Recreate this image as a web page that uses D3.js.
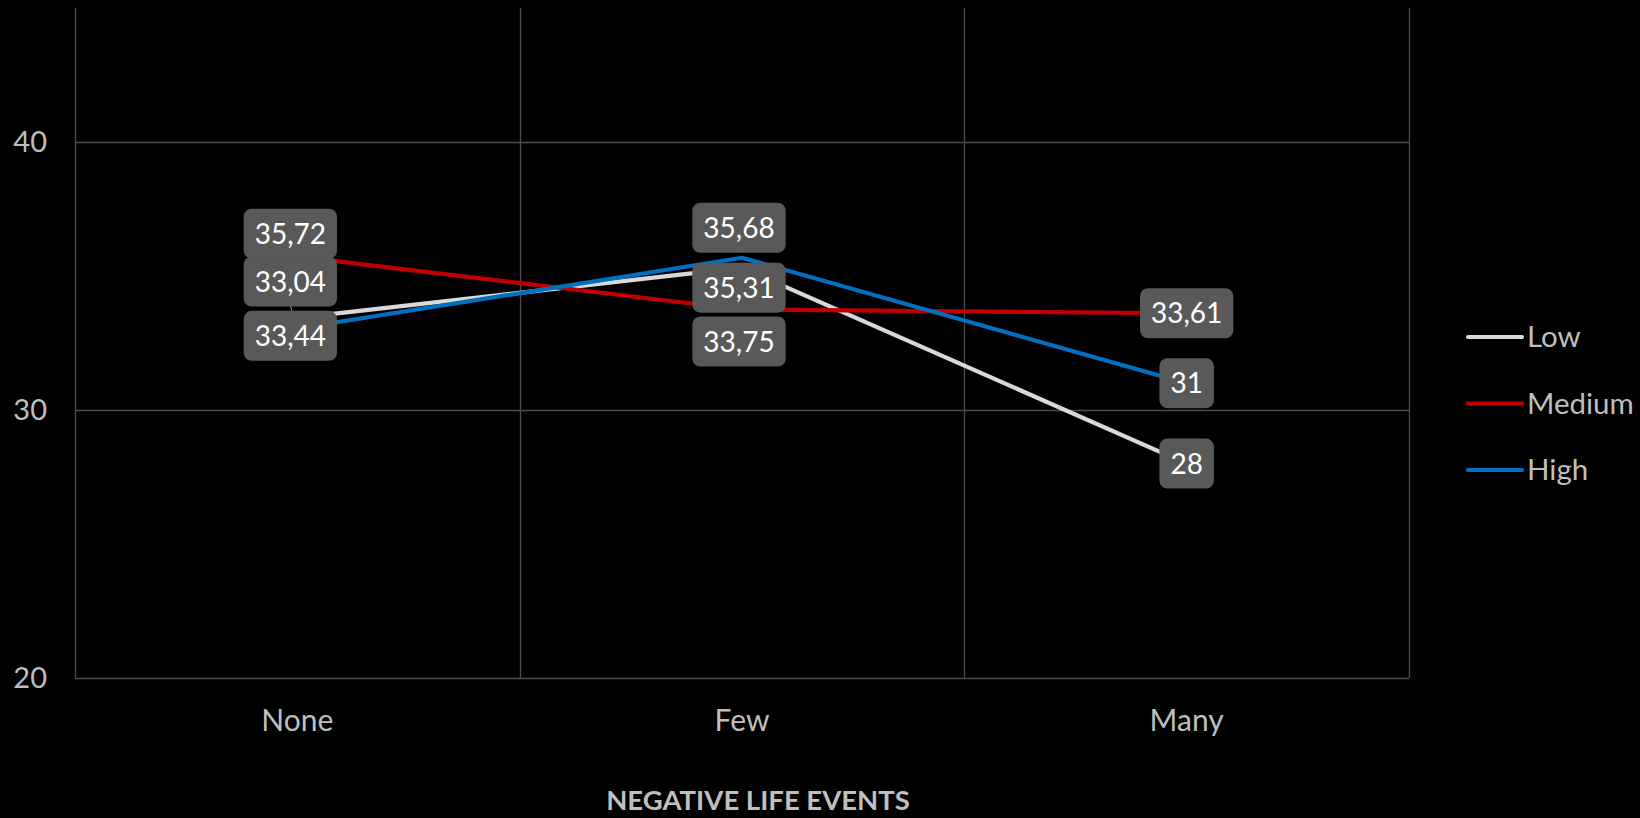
<!DOCTYPE html>
<html>
<head>
<meta charset="utf-8">
<script src="https://cdn.jsdelivr.net/npm/d3@7"></script>
<style>
  html, body { margin: 0; padding: 0; background: #000; }
  svg { display: block; }
  text { font-family: Lato, "Open Sans", sans-serif; }
</style>
</head>
<body>
<svg id="chart" width="1640" height="818"></svg>
<script>
// Categories on the x axis
const categories = ["None", "Few", "Many"];
// Series names and values per category
const seriesNames = ["Low", "Medium", "High"];
const lowValues = [33.44, 35.31, 28];
const mediumValues = [35.72, 33.75, 33.61];
const highValues = [33.04, 35.68, 31];
const yTicks = [20, 30, 40];
const xTitle = "NEGATIVE LIFE EVENTS";

// Label text follows the value with a decimal comma
const fmt = v => String(v).replace(".", ",");

const seriesColors = { Low: "#d9d9d9", Medium: "#c00000", High: "#0070c0" };
// Label offsets (dx, dy) relative to each point, in pixels
const labelOffsets = {
  Low:    [[-7, 18], [-3, 20], [0, 0]],
  Medium: [[-7, -23], [-3, 32], [0, 0]],
  High:   [[-7, -47], [-3, -30], [0, 0]]
};

const series = [
  { name: "Low", values: lowValues },
  { name: "Medium", values: mediumValues },
  { name: "High", values: highValues }
];

const svg = d3.select("#chart");
const plot = { left: 75, right: 1409, top: 8, bottom: 678 };

const x = d3.scaleBand().domain(categories).range([plot.left, plot.right]).padding(0);
const y = d3.scaleLinear().domain([20, 45]).range([plot.bottom, plot.top]);
const cx = c => x(c) + x.bandwidth() / 2;

const gridColor = "#4d4d4d";

// Horizontal gridlines
svg.append("g").selectAll("line").data(yTicks).join("line")
  .attr("x1", plot.left).attr("x2", plot.right)
  .attr("y1", d => Math.round(y(d)) + 0.5).attr("y2", d => Math.round(y(d)) + 0.5)
  .attr("stroke", gridColor).attr("stroke-width", 1.3);

// Vertical gridlines on category boundaries
const bounds = categories.map(c => x(c)).concat([plot.right]);
svg.append("g").selectAll("line").data(bounds).join("line")
  .attr("x1", d => Math.round(d) + 0.5).attr("x2", d => Math.round(d) + 0.5)
  .attr("y1", plot.top).attr("y2", plot.bottom)
  .attr("stroke", gridColor).attr("stroke-width", 1.3);

// Y axis tick labels
svg.append("g").selectAll("text").data(yTicks).join("text")
  .attr("x", 47).attr("y", d => y(d) + 10)
  .attr("text-anchor", "end")
  .attr("fill", "#bfbfbf").attr("font-size", 29)
  .text(d => d);

// Category labels
svg.append("g").selectAll("text").data(categories).join("text")
  .attr("x", d => cx(d)).attr("y", 731)
  .attr("text-anchor", "middle")
  .attr("fill", "#bfbfbf").attr("font-size", 30)
  .text(d => d);

// X axis title
svg.append("text")
  .attr("x", 758).attr("y", 810)
  .attr("text-anchor", "middle")
  .attr("fill", "#bfbfbf").attr("font-size", 27.5).attr("font-weight", "bold")
  .text(xTitle);

// Series lines
const line = d3.line().x((d, i) => cx(categories[i])).y(d => y(d));
svg.append("g").selectAll("path").data(series).join("path")
  .attr("d", s => line(s.values))
  .attr("fill", "none")
  .attr("stroke", s => seriesColors[s.name])
  .attr("stroke-width", 4.2)
  .attr("stroke-linejoin", "round");

// Data labels
const labels = [];
series.forEach(s => s.values.forEach((v, i) => {
  const [dx, dy] = labelOffsets[s.name][i];
  labels.push({ name: s.name, v, px: cx(categories[i]), py: y(v), lx: cx(categories[i]) + dx, ly: y(v) + dy });
}));

// Leader line for the label moved away from its point
const lg = svg.append("g");
labels.filter(d => d.name === "High" && d.px < 400).forEach(d => {
  lg.append("line")
    .attr("x1", d.lx).attr("y1", d.ly + 24)
    .attr("x2", d.px).attr("y2", d.py)
    .attr("stroke", "#a6a6a6").attr("stroke-width", 1);
});

const lab = svg.append("g").selectAll("g").data(labels).join("g");
lab.append("text")
  .attr("x", d => d.lx).attr("y", d => d.ly + 10)
  .attr("text-anchor", "middle")
  .attr("fill", "#ffffff").attr("font-size", 28)
  .text(d => fmt(d.v));
lab.each(function() {
  const g = d3.select(this);
  const bb = g.select("text").node().getBBox();
  const w = bb.width + 22, h = 50;
  const d = g.datum();
  g.insert("rect", "text")
    .attr("x", d.lx - w / 2).attr("y", d.ly - h / 2)
    .attr("width", w).attr("height", h)
    .attr("rx", 8).attr("ry", 8)
    .attr("fill", "#595959");
});

// Legend
const legend = svg.append("g").selectAll("g").data(seriesNames).join("g")
  .attr("transform", (d, i) => `translate(1468, ${337 + i * 66.5})`);
legend.append("line")
  .attr("x1", 0).attr("x2", 54).attr("y1", 0).attr("y2", 0)
  .attr("stroke", d => seriesColors[d]).attr("stroke-width", 4.2)
  .attr("stroke-linecap", "round");
legend.append("text")
  .attr("x", 59).attr("y", 10)
  .attr("fill", "#bfbfbf").attr("font-size", 29.5)
  .text(d => d);
</script>
</body>
</html>
